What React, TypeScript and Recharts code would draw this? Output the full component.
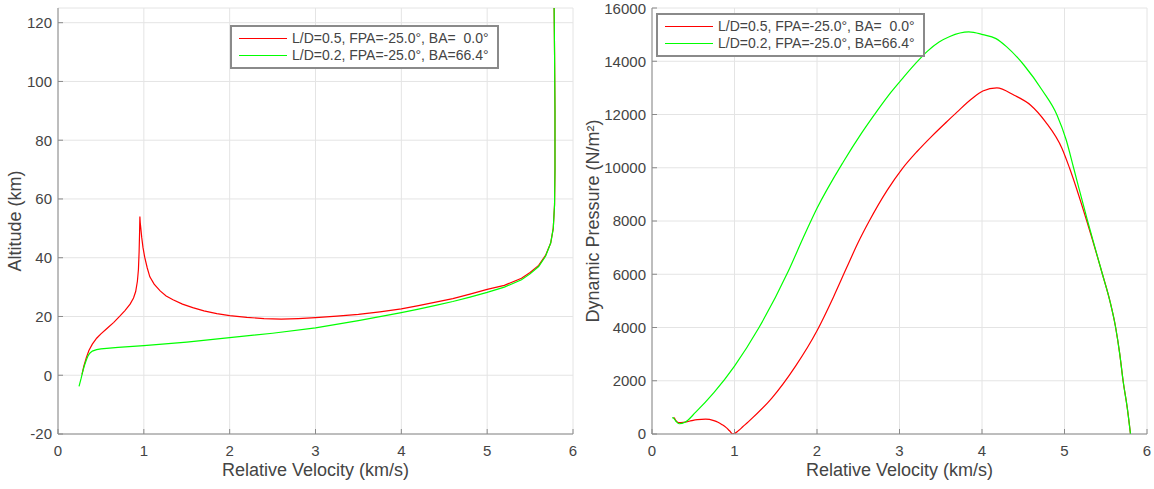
import { LineChart, Line, XAxis, YAxis, CartesianGrid, Legend } from 'recharts';

// tick values
const velocityTicks = [0, 1, 2, 3, 4, 5, 6];
const altitudeTicks = [-20, 0, 20, 40, 60, 80, 100, 120];
const pressureTicks = [0, 2000, 4000, 6000, 8000, 10000, 12000, 14000, 16000];

const seriesNames = ['L/D=0.5, FPA=-25.0°, BA=  0.0°', 'L/D=0.2, FPA=-25.0°, BA=66.4°'];
const seriesColors = ['#ff0000', '#00ff00'];

// altitude (km) vs relative velocity (km/s), L/D = 0.5
const altVelA = [5.78, 5.785, 5.79, 5.79, 5.785, 5.77, 5.74, 5.68, 5.6, 5.5, 5.4, 5.2, 5.0, 4.8, 4.6, 4.4, 4.2, 4.0, 3.75, 3.5, 3.25, 3.0, 2.8, 2.6, 2.4, 2.2, 2.0, 1.85, 1.7, 1.57, 1.45, 1.34, 1.26, 1.19, 1.12, 1.07, 1.04, 1.01, 0.99, 0.975, 0.965, 0.958, 0.954, 0.95, 0.945, 0.937, 0.925, 0.905, 0.88, 0.84, 0.78, 0.72, 0.65, 0.57, 0.5, 0.45, 0.4, 0.36, 0.33, 0.3, 0.28];
const altA = [125, 110, 90, 70, 58, 50, 45, 40.8, 37.4, 35, 33, 30.6, 29.2, 27.6, 26.1, 24.9, 23.7, 22.6, 21.6, 20.7, 20.1, 19.6, 19.3, 19.1, 19.3, 19.7, 20.3, 21.0, 21.9, 23.0, 24.2, 25.7, 27.0, 28.7, 31.0, 33.5, 36.5, 40.2, 43.5, 47, 50, 52, 54, 48, 42, 36, 32, 28.5, 26.3, 24.2, 22, 20.1, 18.0, 15.9, 14.1, 12.6, 10.6, 8.4, 6, 3, 0.3];

// altitude (km) vs relative velocity (km/s), L/D = 0.2
const altVelB = [5.78, 5.785, 5.79, 5.79, 5.785, 5.77, 5.74, 5.68, 5.6, 5.5, 5.4, 5.2, 5.0, 4.8, 4.6, 4.4, 4.2, 4.0, 3.5, 3.0, 2.5, 2.0, 1.5, 1.0, 0.7, 0.5, 0.45, 0.4, 0.37, 0.35, 0.33, 0.31, 0.29, 0.27, 0.245];
const altB = [125, 110, 90, 70, 58, 50, 45, 40.5, 37, 34.5, 32.5, 30, 28.2, 26.6, 25.1, 23.8, 22.5, 21.3, 18.6, 16.1, 14.3, 12.8, 11.3, 10.1, 9.5, 9.0, 8.7, 8.2, 7.5, 6.6, 5.2, 3.5, 1.5, -1, -3.8];

// dynamic pressure (N/m^2) vs relative velocity, L/D = 0.5
const qVelA = [5.8, 5.76, 5.71, 5.67, 5.62, 5.55, 5.46, 5.27, 5.06, 4.97, 4.77, 4.59, 4.39, 4.18, 4.01, 3.88, 3.7, 3.57, 3.39, 3.21, 3.03, 2.85, 2.63, 2.5, 2.36, 2.2, 2.0, 1.74, 1.45, 1.17, 1.1, 1.05, 0.98, 0.94, 0.9, 0.85, 0.8, 0.75, 0.65, 0.55, 0.45, 0.38, 0.32, 0.29, 0.27, 0.26];
const qA = [0, 1000, 2000, 3000, 4000, 5000, 6000, 8000, 10000, 10725, 11725, 12350, 12725, 13000, 12880, 12600, 12100, 11720, 11180, 10600, 9950, 9150, 7980, 7200, 6250, 5150, 3880, 2550, 1340, 465, 270, 130, 0, 120, 240, 350, 440, 500, 555, 540, 480, 440, 430, 500, 600, 620];

// dynamic pressure (N/m^2) vs relative velocity, L/D = 0.2
const qVelB = [5.8, 5.76, 5.71, 5.67, 5.62, 5.55, 5.46, 5.28, 5.11, 5.02, 4.91, 4.73, 4.51, 4.3, 4.17, 4.01, 3.84, 3.61, 3.48, 3.34, 3.19, 3.03, 2.9, 2.72, 2.54, 2.32, 2.0, 1.83, 1.65, 1.29, 1.0, 0.75, 0.53, 0.4, 0.33, 0.29, 0.26, 0.245];
const qB = [0, 1000, 2000, 3000, 4000, 5000, 6000, 8000, 10000, 11050, 11975, 12910, 13850, 14540, 14850, 15000, 15100, 14930, 14720, 14380, 13900, 13330, 12850, 12100, 11300, 10225, 8475, 7350, 6100, 3960, 2550, 1550, 820, 440, 385, 480, 600, 616];

const zip = (xs: number[], ys: number[]) => xs.map((v, i) => ({ v, y: ys[i] }));

const FONT = '"Liberation Sans", Arial, Helvetica, sans-serif';
const AXIS = '#8a8a8a';
const TEXT = '#444444';
const GRID = '#e4e4e4';

const MatlabLegend = () => (
  <div
    style={{
      background: '#fff',
      border: `2px solid ${AXIS}`,
      padding: '3px 8px 3px 7px',
      fontFamily: FONT,
      fontSize: 14,
      color: TEXT,
      lineHeight: '17px',
      boxSizing: 'border-box',
    }}
  >
    {seriesNames.map((name, i) => (
      <div key={name} style={{ display: 'flex', alignItems: 'center', whiteSpace: 'pre' }}>
        <span style={{ display: 'inline-block', width: 48, height: 0, borderTop: `1.5px solid ${seriesColors[i]}`, marginRight: 5 }} />
        <span>{name}</span>
      </div>
    ))}
  </div>
);

interface PanelProps {
  left: number;
  yAxisWidth: number;
  yDomain: [number, number];
  yTicks: number[];
  yLabel: string;
  yLabelOffset: number;
  curve: 'linear' | 'monotone';
  series: { v: number; y: number }[][];
  legendPos: { left: number; top: number };
}

function Panel({ left, yAxisWidth, yDomain, yTicks, yLabel, yLabelOffset, curve, series, legendPos }: PanelProps) {
  const tickStyle = { fill: TEXT, fontSize: 15, fontFamily: FONT };
  return (
    <div style={{ position: 'absolute', left, top: 0 }}>
      <LineChart width={580} height={489} margin={{ top: 8, right: 7, bottom: 0, left: 0 }}>
        <CartesianGrid stroke={GRID} strokeWidth={1} />
        <XAxis
          xAxisId={0}
          type="number"
          dataKey="v"
          domain={[0, 6]}
          ticks={velocityTicks}
          height={55}
          stroke={AXIS}
          tickSize={-5}
          tickMargin={16}
          tick={tickStyle}
          label={{ value: 'Relative Velocity (km/s)', position: 'insideBottom', offset: 13, fill: TEXT, fontSize: 18, fontFamily: FONT }}
        />
        <XAxis xAxisId="top" orientation="top" type="number" domain={[0, 6]} ticks={velocityTicks} height={0} stroke={AXIS} tickSize={-5} tick={false} />
        <YAxis
          yAxisId={0}
          type="number"
          domain={yDomain}
          ticks={yTicks}
          width={yAxisWidth}
          stroke={AXIS}
          tickSize={-5}
          tickMargin={11}
          tick={tickStyle}
          allowDataOverflow
          label={{ value: yLabel, angle: -90, position: 'insideLeft', offset: yLabelOffset, fill: TEXT, fontSize: 18, fontFamily: FONT, style: { textAnchor: 'middle' } }}
        />
        <YAxis yAxisId="right" orientation="right" type="number" domain={yDomain} ticks={yTicks} width={0} stroke={AXIS} tickSize={-5} tick={false} />
        {series.map((d, i) => (
          <Line
            key={seriesNames[i]}
            data={d}
            dataKey="y"
            name={seriesNames[i]}
            type={curve}
            stroke={seriesColors[i]}
            strokeWidth={1.2}
            dot={false}
            activeDot={false}
            isAnimationActive={false}
          />
        ))}
        <Legend
          layout="horizontal"
          verticalAlign="middle"
          align="center"
          content={() => <MatlabLegend />}
          wrapperStyle={{ position: 'absolute', left: legendPos.left, top: legendPos.top, width: 'auto', height: 'auto' }}
        />
      </LineChart>
    </div>
  );
}

export default function App() {
  return (
    <div style={{ position: 'absolute', left: 0, top: 0, width: 1154, height: 489, background: '#fff' }}>
      <Panel
        left={0}
        yAxisWidth={58}
        yDomain={[-20, 125]}
        yTicks={altitudeTicks}
        yLabel="Altitude (km)"
        yLabelOffset={15}
        curve="linear"
        series={[zip(altVelA, altA), zip(altVelB, altB)]}
        legendPos={{ left: 230, top: 25 }}
      />
      <Panel
        left={574}
        yAxisWidth={78}
        yDomain={[0, 16000]}
        yTicks={pressureTicks}
        yLabel="Dynamic Pressure (N/m²)"
        yLabelOffset={19}
        curve="monotone"
        series={[zip(qVelA, qA), zip(qVelB, qB)]}
        legendPos={{ left: 82, top: 13 }}
      />
    </div>
  );
}
